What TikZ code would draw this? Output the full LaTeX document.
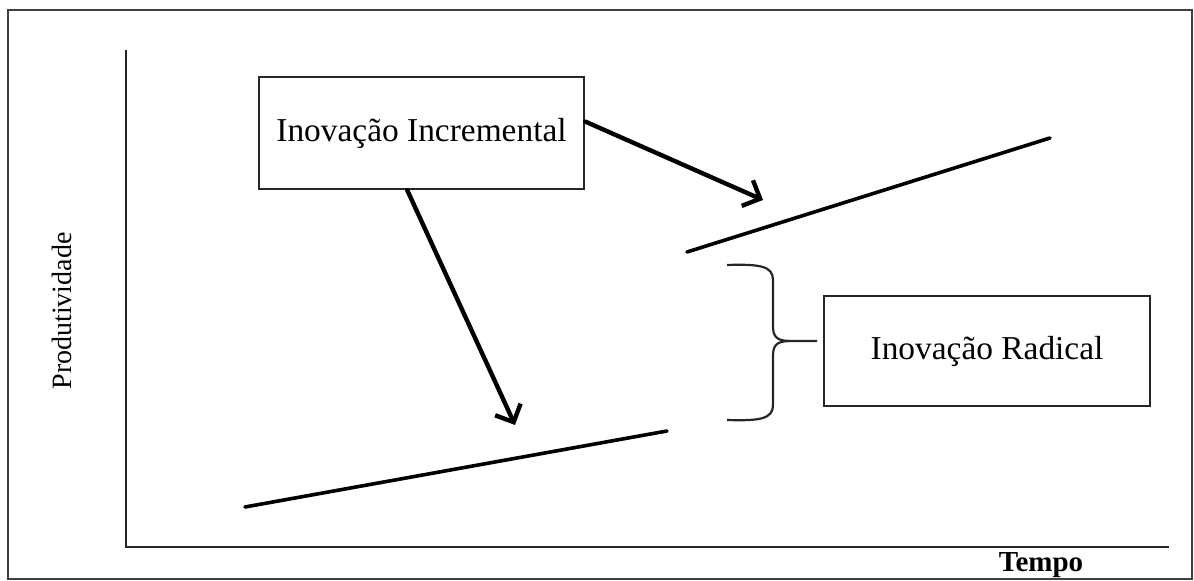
\documentclass[tikz,border=0pt]{standalone}
\usepackage{fontspec}
\setmainfont{Liberation Serif}
\usetikzlibrary{arrows.meta}
\begin{document}
\begin{tikzpicture}[x=0.5pt,y=-0.5pt,
  frameline/.style={draw=black!75,line width=1pt},
  axisline/.style={draw=black!85,line width=1.3pt},
  trend/.style={draw=black,line width=1.8pt,line cap=round},
  label box/.style={draw=black!85,line width=1.2pt,rectangle,inner sep=0pt,
    font=\fontsize{16.7}{20}\selectfont},
  pointer/.style={draw=black,line width=2.2pt,line cap=round,
    -{Straight Barb[length=7pt,width=14pt,line width=2.2pt]}},
  bracket/.style={draw=black!85,line width=1.1pt}]
\useasboundingbox (0,0) rectangle (1194,581);
% outer frame
\draw[frameline] (1192,10) -- (8,10) -- (8,579) -- (1192,579) -- cycle;
% axes
\coordinate (ytop) at (126,50);
\coordinate (origin) at (126,547);
\coordinate (xend) at (1169,547);
\draw[axisline] (ytop) -- (origin) -- (xend);
\node[rotate=90,font=\fontsize{14}{16}\selectfont] (ylab) at (62,311) {Produtividade};
\node[font=\fontsize{14.5}{17}\selectfont\bfseries] (xlab) at (1041,565) {Tempo};
% productivity trajectories
\coordinate (l1a) at (245,507);
\coordinate (l1b) at (667,431);
\coordinate (l2a) at (687,252);
\coordinate (l2b) at (1050,138);
\draw[trend] (l1a) -- (l1b);
\draw[trend] (l2a) -- (l2b);
% labels
\node[label box,minimum width=162.5pt,minimum height=56pt] (inc) at (421.5,133) {Inovação Incremental};
\node[label box,minimum width=163pt,minimum height=55pt] (rad) at (987,351) {Inovação Radical};
% arrows from the incremental label
\coordinate (tipA) at (763,200);
\coordinate (tipB) at (515,425);
\draw[pointer] (inc.4) -- (tipA);
\draw[pointer] (inc.256) -- (tipB);
% brace marking the jump between trajectories
\coordinate (brtop) at (727,265);
\coordinate (brbot) at (727,420);
\coordinate (brtip) at (817,341);
\draw[bracket] (brtop) .. controls (760,264) and (773,266) .. (773,280)
  -- (773,326) .. controls (773,336) and (776,341) .. (790,341) -- (brtip);
\draw[bracket] (brbot) .. controls (760,421) and (773,419) .. (773,405)
  -- (773,356) .. controls (773,346) and (776,341) .. (790,341);
\end{tikzpicture}
\end{document}
